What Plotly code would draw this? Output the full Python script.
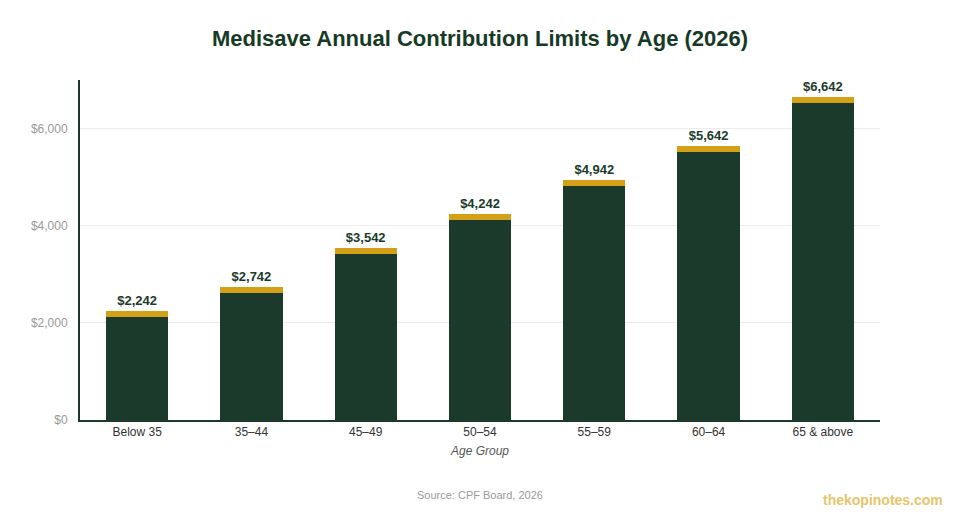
import plotly.graph_objects as go

categories = ["Below 35", "35–44", "45–49", "50–54", "55–59", "60–64", "65 & above"]
totals = [2242, 2742, 3542, 4242, 4942, 5642, 6642]
cap_values = [120, 120, 120, 120, 120, 120, 120]
base_values = [t - c for t, c in zip(totals, cap_values)]
labels = ["$2,242", "$2,742", "$3,542", "$4,242", "$4,942", "$5,642", "$6,642"]

DARK = "#1c3a2b"
GOLD = "#d4a017"
FONT = "Liberation Sans, Arial, sans-serif"

fig = go.Figure()
fig.add_trace(go.Bar(x=categories, y=base_values, marker=dict(color=DARK, line=dict(width=0)),
                     hoverinfo="skip", showlegend=False))
fig.add_trace(go.Bar(x=categories, y=cap_values, marker=dict(color=GOLD, line=dict(width=0)),
                     text=labels, textposition="outside", cliponaxis=False,
                     textfont=dict(family=FONT, size=13, color=DARK, weight="bold"),
                     showlegend=False, hoverinfo="skip"))

fig.update_layout(
    barmode="stack",
    bargap=0.455,
    width=944, height=504,
    margin=dict(l=72, r=72, t=72, b=92),
    paper_bgcolor="white", plot_bgcolor="white",
    font=dict(family=FONT),
    title=dict(text="<b>Medisave Annual Contribution Limits by Age (2026)</b>",
               x=0.5, xanchor="center", y=0.940, yanchor="middle",
               font=dict(family=FONT, size=22, color="#173a26")),
    uniformtext=dict(mode=False),
    xaxis=dict(showline=True, linecolor=DARK, linewidth=2, ticks="", showgrid=False,
               tickfont=dict(family=FONT, size=12, color="#333333"),
               title=dict(text="<i>Age Group</i>", font=dict(family=FONT, size=12, color="#555555"),
                          standoff=8)),
    yaxis=dict(range=[0, 7000], showline=True, linecolor=DARK, linewidth=2,
               tickvals=[0, 2000, 4000, 6000], ticktext=["$0", "$2,000", "$4,000", "$6,000"],
               tickfont=dict(family=FONT, size=12, color="#999999"),
               gridcolor="#ececec", gridwidth=1, zeroline=False, ticks="",
               ticklabelstandoff=8),
)

fig.add_annotation(text="Source: CPF Board, 2026", xref="paper", yref="paper",
                   x=0.5, y=-0.221, xanchor="center", yanchor="middle", showarrow=False,
                   font=dict(family=FONT, size=11, color="#999999"))
fig.add_annotation(text="<b>thekopinotes.com</b>", xref="paper", yref="paper",
                   x=1.081, y=-0.235, xanchor="right", yanchor="middle", showarrow=False,
                   font=dict(family=FONT, size=14, color="#e8c46a"))

fig.write_html("out.html")
